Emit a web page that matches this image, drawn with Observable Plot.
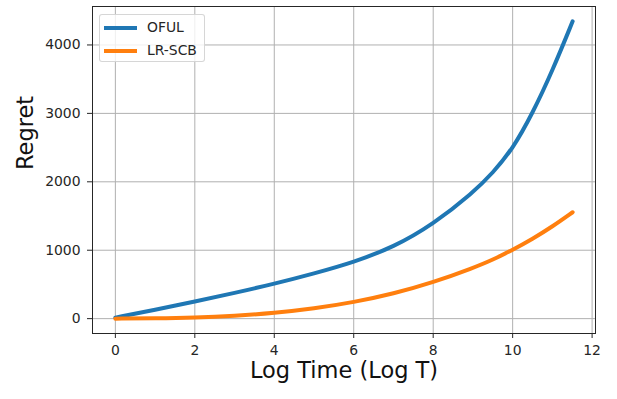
<!DOCTYPE html>
<html>
<head>
<meta charset="utf-8">
<script src="https://cdn.jsdelivr.net/npm/d3@7"></script>
<script src="https://cdn.jsdelivr.net/npm/@observablehq/plot@0.6"></script>
<style>
  html, body { margin: 0; padding: 0; background: #fff; }
  #wrap { position: relative; width: 617px; height: 399px; font-family: "DejaVu Sans", sans-serif; }
  #legend { position: absolute; left: 99px; top: 14px; width: 106px; height: 48px;
    border: 1px solid rgba(204,204,204,0.8); border-radius: 3px; background: rgba(255,255,255,0.8); box-sizing: border-box; }
  .item { position: absolute; left: 0; height: 16px; font-size: 13.9px; color: #262626; }
  .swatch { position: absolute; left: 4px; width: 33px; height: 4px; top: 6px; }
  .lbl { position: absolute; left: 47px; top: -1px; white-space: nowrap; }
</style>
</head>
<body>
<div id="wrap"></div>
<script>
// Data
const logT  = [0, 1, 2, 3, 4, 5, 6, 7, 8, 9, 9.5, 10, 10.5, 11, 11.51];
const oful  = [15, 130, 250, 375, 510, 660, 825, 1045, 1380, 1840, 2130, 2480, 3000, 3620, 4345];
const lrscb = [0, 4, 15, 40, 82, 147, 239, 364, 529, 739, 860, 1005, 1165, 1345, 1555];
const seriesNames = ["OFUL", "LR-SCB"];
const seriesColors = ["#1f77b4", "#ff7f0e"];
const xTicks = [0, 2, 4, 6, 8, 10, 12];
const yTicks = [0, 1000, 2000, 3000, 4000];

const rows = [];
[oful, lrscb].forEach((vals, s) => vals.forEach((v, i) => rows.push({x: logT[i], y: v, series: seriesNames[s]})));

const xmax = d3.max(logT), ymax = d3.max([...oful, ...lrscb]);
const chart = Plot.plot({
  width: 617, height: 399,
  marginLeft: 92, marginRight: 22, marginTop: 6, marginBottom: 66,
  style: {fontFamily: "DejaVu Sans", fontSize: "13.9px", color: "#262626", background: "#fff"},
  x: {domain: [-0.05 * xmax, xmax * 1.05], label: null},
  y: {domain: [-0.05 * ymax, ymax * 1.05], label: null},
  color: {domain: seriesNames, range: seriesColors},
  marks: [
    Plot.gridX(xTicks, {stroke: "#b0b0b0", strokeOpacity: 1, strokeWidth: 1}),
    Plot.gridY(yTicks, {stroke: "#b0b0b0", strokeOpacity: 1, strokeWidth: 1}),
    Plot.axisX({ticks: xTicks, tickSize: 5, tickPadding: 7, label: null, stroke: "#262626"}),
    Plot.axisY({ticks: yTicks, tickSize: 5, tickPadding: 7, label: null, tickFormat: d => String(d), stroke: "#262626"}),
    Plot.line(rows, {x: "x", y: "y", z: "series", stroke: "series", strokeWidth: 4, curve: "basis"}),
    Plot.frame({stroke: "#262626", strokeWidth: 1}),
    Plot.text(["Log Time (Log T)"], {frameAnchor: "bottom", dy: 44.5, fontSize: 22.5, fill: "#111"}),
    Plot.text(["Regret"], {frameAnchor: "left", rotate: -90, dx: -67, fontSize: 22.5, fill: "#111"})
  ]
});
const wrap = document.getElementById("wrap");
wrap.appendChild(chart);

const legend = document.createElement("div");
legend.id = "legend";
seriesNames.forEach((name, i) => {
  const item = document.createElement("div");
  item.className = "item";
  item.style.top = (5 + i * 23) + "px";
  item.style.width = "100%";
  item.innerHTML = `<div class="swatch" style="background:${seriesColors[i]}"></div><div class="lbl">${name}</div>`;
  legend.appendChild(item);
});
wrap.appendChild(legend);
</script>
</body>
</html>
